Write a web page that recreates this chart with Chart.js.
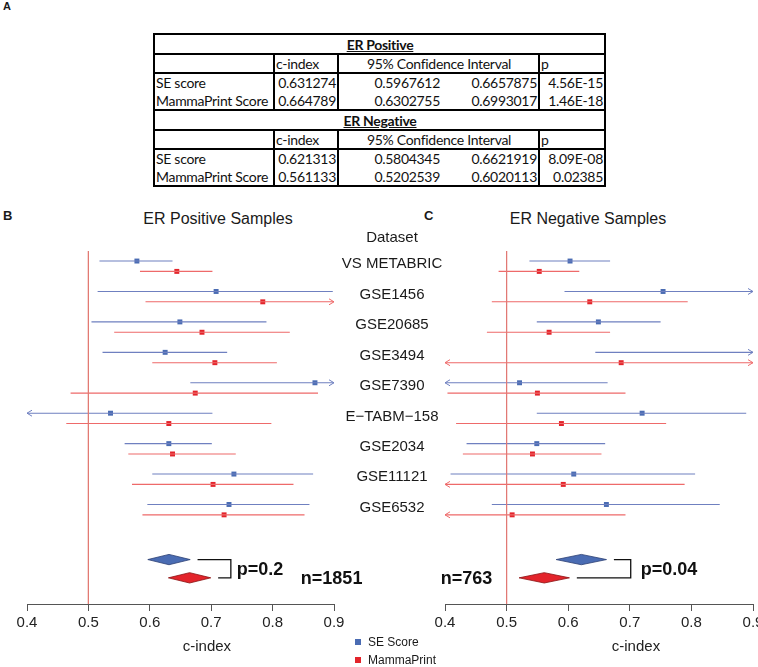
<!DOCTYPE html>
<html>
<head>
<meta charset="utf-8">
<script src="https://cdn.jsdelivr.net/npm/chart.js@4.4.0/dist/chart.umd.min.js"></script>
<style>
html, body { margin: 0; padding: 0; background: #fff; overflow: hidden; width: 758px; height: 667px; }
body { position: relative; font-family: "Liberation Sans", Arial, sans-serif; color: #1a1a1a; }
.panel { position: absolute; font-weight: bold; line-height: 1; }
.ttl { position: absolute; font-size: 16px; line-height: 18px; white-space: nowrap; transform: translateX(-50%); }
canvas { position: absolute; }
#tbl { position: absolute; left: 153px; top: 33px; width: 451px; border-collapse: collapse; table-layout: fixed;
       font-family: Lato, "Open Sans", sans-serif; font-size: 14px; letter-spacing: -0.3px; color: #111; }
#tbl td { border: 2px solid #000; padding: 0 1px 0 2px; text-align: right; height: 17px; line-height: 17px; white-space: nowrap; overflow: hidden; }
#tbl td.l { text-align: left; padding-left: 1px; }
#tbl td.c { text-align: center; }
#tbl tr.r1 td { border-bottom: none; }
#tbl tr.r2 td { border-top: none; height: 18px; }
#tbl td.ci1 { border-right: none; }
#tbl td.ci2 { border-left: none; }
#tbl tr.hd td { text-align: center; font-weight: bold; text-decoration: underline; height: 18px; }
.leg { position: absolute; left: 355px; font-size: 12px; line-height: 14px; }
.leg i { display: inline-block; width: 6px; height: 6px; margin-right: 7px; vertical-align: 1px; }
</style>
</head>
<body>
<div class="panel" style="left:3px;top:1px;font-size:11px;">A</div>
<table id="tbl">
  <colgroup><col style="width:120px"><col style="width:64px"><col style="width:103px"><col style="width:98px"><col style="width:66px"></colgroup>
  <tbody id="tbody"></tbody>
</table>
<div class="panel" style="left:3px;top:209px;font-size:13px;">B</div>
<div class="panel" style="left:424px;top:209px;font-size:13px;">C</div>
<div class="ttl" style="left:218px;top:210px;">ER Positive Samples</div>
<div class="ttl" style="left:588px;top:210px;">ER Negative Samples</div>
<canvas id="posChart" width="450" height="467" style="left:0;top:200px;"></canvas>
<canvas id="negChart" width="400" height="467" style="left:380px;top:200px;"></canvas>
<div class="leg" style="top:635px;"><i style="background:#4a6cb3"></i>SE Score</div>
<div class="leg" style="top:653px;"><i style="background:#e3242b"></i>MammaPrint</div>

<script>
// summary table (also used for the diamonds)
const groups = ['ER Positive', 'ER Negative'];
const scoreNames = ['SE score', 'MammaPrint Score'];
const cIndex = [[0.631274, 0.664789], [0.621313, 0.561133]];
const ciLow = [[0.5967612, 0.6302755], [0.5804345, 0.5202539]];
const ciHigh = [[0.6657875, 0.6993017], [0.6621919, 0.6020113]];
const pText = [['4.56E-15', '1.46E-18'], ['8.09E-08', '0.02385']];

// forest plot rows
const datasetNames = ['VS METABRIC', 'GSE1456', 'GSE20685', 'GSE3494', 'GSE7390', 'E\u2212TABM\u2212158', 'GSE2034', 'GSE11121', 'GSE6532'];
const xTicks = [0.4, 0.5, 0.6, 0.7, 0.8, 0.9];

// ER positive (values outside 0.4-0.9 are drawn as arrows)
const posSE     = [0.579, 0.708, 0.649, 0.625, 0.869, 0.536, 0.631, 0.737, 0.729];
const posSELow  = [0.518, 0.515, 0.505, 0.523, 0.666, 0.38, 0.559, 0.604, 0.596];
const posSEHigh = [0.637, 0.898, 0.790, 0.726, 0.95, 0.702, 0.701, 0.866, 0.860];
const posMP     = [0.644, 0.784, 0.685, 0.706, 0.674, 0.631, 0.637, 0.703, 0.721];
const posMPLow  = [0.584, 0.593, 0.542, 0.604, 0.471, 0.464, 0.565, 0.571, 0.588];
const posMPHigh = [0.702, 0.95, 0.828, 0.807, 0.874, 0.798, 0.740, 0.834, 0.852];

// ER negative
const negSE     = [0.603, 0.754, 0.649, 0.95, 0.521, 0.720, 0.549, 0.609, 0.662];
const negSELow  = [0.537, 0.594, 0.549, 0.644, 0.35, 0.549, 0.435, 0.409, 0.476];
const negSEHigh = [0.668, 0.95, 0.750, 1.0, 0.664, 0.889, 0.660, 0.806, 0.846];
const negMP     = [0.553, 0.635, 0.569, 0.686, 0.550, 0.589, 0.542, 0.592, 0.509];
const negMPLow  = [0.487, 0.476, 0.468, 0.35, 0.404, 0.418, 0.429, 0.35, 0.35];
const negMPHigh = [0.618, 0.794, 0.668, 0.95, 0.693, 0.759, 0.654, 0.789, 0.693];

const sampleN = ['n=1851', 'n=763'];
const pairP = ['p=0.2', 'p=0.04'];

const BLUE = '#4a6cb3', RED = '#e3242b';
const BLUE_LINE = '#6f80c0', RED_LINE = '#ee6a6a';
const OFF = 0.17;              // blue above, red below the row
const DIAMOND_ROWS = [9.64, 10.24];

function buildTable() {
  let html = '';
  groups.forEach((g, gi) => {
    html += `<tr class="hd"><td colspan="5">${g}</td></tr>`;
    html += `<tr><td></td><td class="l">c-index</td><td colspan="2" class="c">95% Confidence Interval</td><td class="l">p</td></tr>`;
    scoreNames.forEach((s, si) => {
      html += `<tr class="${si === 0 ? 'r1' : 'r2'}"><td class="l">${s}</td><td>${cIndex[gi][si]}</td>` +
              `<td class="ci1">${ciLow[gi][si]}</td><td class="ci2">${ciHigh[gi][si]}</td><td>${pText[gi][si]}</td></tr>`;
    });
  });
  document.getElementById('tbody').innerHTML = html;
}

function segments(lo, hi, off) {
  const pts = [];
  lo.forEach((v, i) => {
    pts.push({x: v, y: i + off}, {x: hi[i], y: i + off}, {x: v, y: null});
  });
  return pts;
}

function points(vals, off) {
  return vals.map((v, i) => ({x: v, y: i + off}));
}

function arrow(ctx, x, y, dir) {
  ctx.beginPath();
  ctx.moveTo(x - dir * 5, y - 3);
  ctx.lineTo(x, y);
  ctx.lineTo(x - dir * 5, y + 3);
  ctx.stroke();
}

const forestDecor = {
  id: 'forestDecor',
  afterDatasetsDraw(chart, args, o) {
    const ctx = chart.ctx;
    const xs = chart.scales.x, ys = chart.scales.y;
    const px = v => xs.getPixelForValue(v), py = v => ys.getPixelForValue(v);
    const p = o.panel;
    ctx.save();

    // arrows where the interval runs off the axis
    o.cis.forEach(ci => {
      ctx.strokeStyle = ci.color;
      ctx.lineWidth = 1;
      ci.lo.forEach((lo, i) => {
        const y = py(i + ci.off);
        if (lo < xs.min) arrow(ctx, xs.left, y, -1);
        if (ci.hi[i] > xs.max) arrow(ctx, xs.right, y, 1);
      });
    });

    // pooled diamonds
    [BLUE, RED].forEach((col, si) => {
      const r = DIAMOND_ROWS[si];
      ctx.beginPath();
      ctx.moveTo(px(ciLow[p][si]), py(r));
      ctx.lineTo(px(cIndex[p][si]), py(r - OFF));
      ctx.lineTo(px(ciHigh[p][si]), py(r));
      ctx.lineTo(px(cIndex[p][si]), py(r + OFF));
      ctx.closePath();
      ctx.fillStyle = col;
      ctx.fill();
      ctx.strokeStyle = si === 0 ? '#2b3f73' : '#8a1010';
      ctx.lineWidth = 0.8;
      ctx.stroke();
    });

    // bracket with p value
    const bx = px(o.bracketX);
    ctx.strokeStyle = '#111';
    ctx.lineWidth = 1.3;
    ctx.beginPath();
    ctx.moveTo(px(ciHigh[p][0] + 0.012), py(DIAMOND_ROWS[0]));
    ctx.lineTo(bx, py(DIAMOND_ROWS[0]));
    ctx.lineTo(bx, py(DIAMOND_ROWS[1]));
    ctx.lineTo(px(ciHigh[p][1] + 0.012), py(DIAMOND_ROWS[1]));
    ctx.stroke();

    ctx.fillStyle = '#111';
    ctx.font = 'bold 18px "Liberation Sans", Arial, sans-serif';
    ctx.textBaseline = 'middle';
    ctx.textAlign = 'left';
    ctx.fillText(pairP[p], bx + o.pGap, py(9.98));
    ctx.fillText(sampleN[p], px(o.nX), py(10.28));

    // axis title
    ctx.font = '15px "Liberation Sans", Arial, sans-serif';
    ctx.textAlign = 'center';
    ctx.fillStyle = '#222';
    ctx.fillText('c-index', px(o.titleX), chart.chartArea.bottom + 43);

    // dataset names between the panels
    if (o.names) {
      const lx = chart.chartArea.right + 58;
      ctx.font = '15px "Liberation Sans", Arial, sans-serif';
      ctx.fillStyle = '#1a1a1a';
      ctx.fillText('Dataset', lx, py(-0.92));
      datasetNames.forEach((n, i) => ctx.fillText(n, lx, py(i) - 2));
    }
    ctx.restore();
  }
};

function makeForest(id, panel, se, seLo, seHi, mp, mpLo, mpHi, extra, padding) {
  return new Chart(document.getElementById(id), {
    type: 'scatter',
    data: {
      datasets: [
        { data: [{x: 0.5, y: -0.5}, {x: 0.5, y: 11.1}], showLine: true, borderColor: '#e27a74', borderWidth: 1, pointRadius: 0 },
        { data: segments(seLo, seHi, -OFF), showLine: true, borderColor: BLUE_LINE, borderWidth: 1.1, pointRadius: 0 },
        { data: segments(mpLo, mpHi, OFF), showLine: true, borderColor: RED_LINE, borderWidth: 1.1, pointRadius: 0 },
        { data: points(se, -OFF), pointStyle: 'rect', pointRadius: 3.5, backgroundColor: BLUE, borderWidth: 0 },
        { data: points(mp, OFF), pointStyle: 'rect', pointRadius: 3.5, backgroundColor: RED, borderWidth: 0 }
      ]
    },
    options: {
      responsive: false,
      animation: false,
      events: [],
      layout: { padding: padding },
      plugins: {
        legend: { display: false },
        tooltip: { enabled: false },
        forestDecor: Object.assign({
          panel: panel,
          cis: [
            { lo: seLo, hi: seHi, off: -OFF, color: BLUE_LINE },
            { lo: mpLo, hi: mpHi, off: OFF, color: RED_LINE }
          ]
        }, extra)
      },
      scales: {
        x: {
          type: 'linear',
          min: xTicks[0],
          max: xTicks[xTicks.length - 1],
          afterBuildTicks: s => { s.ticks = xTicks.map(v => ({value: v})); },
          afterFit: s => { s.height = 63; },
          ticks: {
            font: { family: '"Liberation Sans", Arial, sans-serif', size: 15 },
            color: '#222',
            padding: 3,
            maxRotation: 0,
            callback: v => v.toFixed(1)
          },
          grid: { drawOnChartArea: false, drawTicks: true, tickLength: 7, color: '#555' },
          border: { display: true, color: '#555', width: 1 }
        },
        y: { type: 'linear', display: false, reverse: true, min: -0.5, max: 11.1 }
      }
    },
    plugins: [forestDecor]
  });
}

buildTable();
makeForest('posChart', 0, posSE, posSELow, posSEHigh, posMP, posMPLow, posMPHigh,
  { bracketX: 0.732, pGap: 6, nX: 0.846, titleX: 0.693, names: true },
  { left: 27, right: 116, top: 51, bottom: 0 });
makeForest('negChart', 1, negSE, negSELow, negSEHigh, negMP, negMPLow, negMPHigh,
  { bracketX: 0.7015, pGap: 10, nX: 0.393, titleX: 0.71, names: false },
  { left: 65, right: 27, top: 51, bottom: 0 });
</script>
</body>
</html>
